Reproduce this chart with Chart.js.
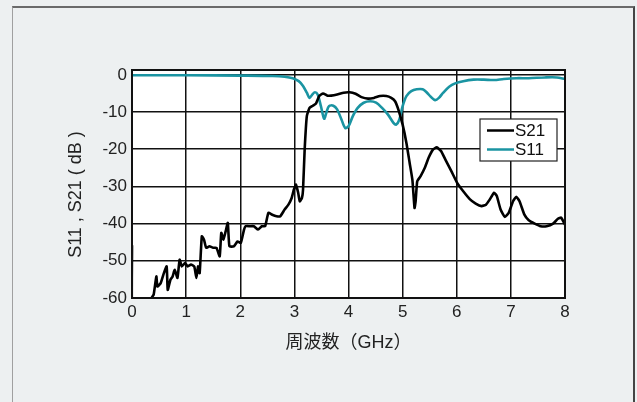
<!DOCTYPE html>
<html>
<head>
<meta charset="utf-8">
<script src="https://cdn.jsdelivr.net/npm/chart.js@4/dist/chart.umd.min.js"></script>
<style>
  html, body { margin: 0; padding: 0; background: #edf0f1; }
  #wrap { position: relative; width: 637px; height: 402px; overflow: hidden; }
  #frame {
    position: absolute; left: 12px; top: 6px; width: 620px; height: 420px;
    border-top: 2px solid #6a6a6a; border-left: 1px solid #a0a0a0; border-right: 2px solid #444;
  }
  canvas { position: absolute; left: 0; top: 0; }
</style>
</head>
<body>
<div id="wrap">
  <div id="frame"></div>
  <canvas id="chart" width="637" height="402"></canvas>
</div>
<script>
// frequency (GHz) / level (dB)
const s21Freq = [0, 0.02, 0.34, 0.36, 0.40, 0.45, 0.47, 0.53, 0.58, 0.64, 0.66, 0.71, 0.75, 0.79, 0.84, 0.88, 0.92, 0.98,
  1.03, 1.09, 1.15, 1.19, 1.22, 1.25, 1.29, 1.33, 1.37, 1.43, 1.50, 1.56, 1.62, 1.65, 1.69, 1.73, 1.77, 1.80, 1.88, 1.95,
  2.01, 2.07, 2.10, 2.18, 2.25, 2.33, 2.40, 2.46, 2.52, 2.59, 2.67, 2.74, 2.82, 2.89, 2.95, 2.99, 3.03, 3.07, 3.10, 3.14,
  3.16, 3.19, 3.23, 3.28, 3.34, 3.40, 3.46, 3.53, 3.61, 3.68, 3.79, 3.91, 4.02, 4.13, 4.24, 4.36, 4.47, 4.58, 4.70, 4.79,
  4.86, 4.92, 5.00, 5.07, 5.13, 5.18, 5.22, 5.24, 5.27, 5.33, 5.41, 5.48, 5.56, 5.63, 5.71, 5.79, 5.90, 6.01, 6.12, 6.24,
  6.35, 6.46, 6.54, 6.61, 6.69, 6.74, 6.81, 6.89, 6.96, 7.04, 7.10, 7.16, 7.25, 7.33, 7.44, 7.55, 7.66, 7.78, 7.87, 7.93, 8.00];
const s21Db = [-45.8, -70, -70, -60, -59.1, -54.2, -56.9, -56, -53.7, -51.5, -57.8, -55.1, -54.2, -52.4, -54.6, -49.7, -51.5, -50.6,
  -51.5, -51, -51.5, -54.6, -51.5, -53.3, -43.4, -44.3, -46.5, -46.1, -46.5, -46.5, -48.8, -42.5, -44.3, -42.1, -39.8, -46.1, -46.1, -44.8,
  -45.2, -41.6, -40.7, -40.7, -40.7, -41.6, -40.7, -40.7, -37.1, -37.6, -38, -38, -36.2, -34.9, -33.1, -30.9, -29.5, -31.7, -34, -33.1,
  -30.9, -20.1, -11.1, -8.9, -8.3, -7.7, -5.7, -5, -5.6, -5.6, -5.3, -4.8, -4.7, -5.1, -6, -6.4, -6.2, -5.7, -5.7, -6.2,
  -7.1, -9.3, -13.4, -18.3, -23.7, -28.2, -35.8, -34, -28.6, -27.3, -25, -22.3, -20.1, -19.5, -20.5, -22.8, -25.9, -29.1, -31.3, -33.4,
  -34.6, -35.3, -34.9, -33.5, -31.7, -32.6, -36.2, -38.2, -37.1, -34, -32.8, -34, -37.6, -39.1, -40, -40.7, -40.7, -40, -38.7, -38.4, -40.3];

const s11Freq = [0, 1.0, 2.0, 2.6, 2.82, 2.97, 3.08, 3.16, 3.23, 3.28, 3.33, 3.38, 3.43, 3.49, 3.55, 3.59, 3.64, 3.72, 3.79, 3.87,
  3.94, 4.00, 4.08, 4.17, 4.28, 4.40, 4.51, 4.62, 4.73, 4.83, 4.88, 4.94, 5.00, 5.07, 5.16, 5.26, 5.37, 5.45, 5.52, 5.60,
  5.67, 5.75, 5.86, 5.97, 6.12, 6.31, 6.50, 6.69, 6.87, 7.10, 7.33, 7.63, 7.85, 8.00];
const s11Db = [-0.1, -0.1, -0.2, -0.3, -0.5, -0.9, -1.7, -3, -4.8, -6.2, -5.3, -4.7, -5.3, -8.4, -11.8, -10.2, -8.4, -8.3, -9.3, -12,
  -14.3, -13.8, -11.1, -8.9, -7.5, -7.1, -7.5, -8.9, -10.7, -12.9, -13.4, -12, -8.4, -5.7, -4.4, -3.9, -3.9, -4.8, -5.9, -6.8,
  -6.2, -4.8, -3.2, -2.3, -1.7, -1.3, -1.3, -1.4, -1.1, -0.9, -0.9, -0.7, -0.7, -1.1];

const xTicks = [0, 1, 2, 3, 4, 5, 6, 7, 8];
const yTicks = [0, -10, -20, -30, -40, -50, -60];
const seriesNames = ['S21', 'S11'];
const seriesColors = ['#000000', '#1a94a2'];

const toPoints = (xs, ys) => xs.map((x, i) => ({ x, y: ys[i] }));

// white plot area + black frame
const plotFrame = {
  id: 'plotFrame',
  beforeDraw(chart) {
    const { ctx, chartArea: a } = chart;
    ctx.save();
    ctx.fillStyle = '#ffffff';
    ctx.fillRect(a.left, a.top, a.right - a.left, a.bottom - a.top);
    ctx.restore();
  },
  afterDraw(chart) {
    const { ctx, chartArea: a } = chart;
    ctx.save();
    ctx.strokeStyle = '#111';
    ctx.lineWidth = 2;
    ctx.strokeRect(a.left, a.top, a.right - a.left, a.bottom - a.top);
    // y title, rotated
    ctx.translate(76, 194.5);
    ctx.rotate(-Math.PI / 2);
    ctx.fillStyle = '#222';
    ctx.font = '18px "Liberation Sans", Arial, sans-serif';
    ctx.textAlign = 'center';
    ctx.textBaseline = 'middle';
    ctx.fillText('S11 , S21 ( dB )', 0, 0);
    ctx.restore();
  }
};

// boxed legend inside the plot
const boxLegend = {
  id: 'boxLegend',
  afterDraw(chart) {
    const { ctx } = chart;
    const x0 = 480, y0 = 119, w = 77, h = 42;
    ctx.save();
    ctx.fillStyle = '#fff';
    ctx.fillRect(x0, y0, w, h);
    ctx.strokeStyle = '#222';
    ctx.lineWidth = 1.2;
    ctx.strokeRect(x0, y0, w, h);
    ctx.font = '17px "Liberation Sans", Arial, sans-serif';
    ctx.textBaseline = 'middle';
    chart.data.datasets.forEach((ds, i) => {
      const y = y0 + 11.5 + i * 19;
      ctx.strokeStyle = ds.borderColor;
      ctx.lineWidth = 2.5;
      ctx.beginPath();
      ctx.moveTo(x0 + 7, y);
      ctx.lineTo(x0 + 34, y);
      ctx.stroke();
      ctx.fillStyle = '#111';
      ctx.fillText(ds.label, x0 + 35, y + 1);
    });
    ctx.restore();
  }
};

new Chart(document.getElementById('chart'), {
  type: 'line',
  data: {
    datasets: [
      { label: seriesNames[0], data: toPoints(s21Freq, s21Db), borderColor: seriesColors[0], borderWidth: 2.6, pointRadius: 0, tension: 0.15 },
      { label: seriesNames[1], data: toPoints(s11Freq, s11Db), borderColor: seriesColors[1], borderWidth: 2.6, pointRadius: 0, tension: 0.3 },
    ],
  },
  options: {
    responsive: false,
    animation: false,
    layout: { padding: { left: 0, top: 70, right: 72, bottom: 0 } },
    plugins: { legend: { display: false }, tooltip: { enabled: false } },
    scales: {
      x: {
        type: 'linear', min: 0, max: 8,
        afterBuildTicks: s => { s.ticks = xTicks.map(v => ({ value: v })); },
        afterFit: s => { s.height = 104; },
        ticks: { color: '#222', font: { size: 17, family: '"Liberation Sans", Arial, sans-serif' }, padding: 4 },
        grid: { color: '#111', lineWidth: 1.5, drawTicks: false },
        border: { display: false },
        title: {
          display: true, text: '周波数（GHz）', color: '#222',
          font: { size: 18, family: '"Liberation Sans", "Noto Sans CJK JP", sans-serif' },
          padding: { top: 0, bottom: 48 },
        },
      },
      y: {
        min: -60, max: 1.3,
        afterBuildTicks: s => { s.ticks = yTicks.map(v => ({ value: v })); },
        afterFit: s => { s.width = 132; },
        ticks: { color: '#222', font: { size: 17, family: '"Liberation Sans", Arial, sans-serif' }, padding: 5 },
        grid: { color: '#111', lineWidth: 1.5, drawTicks: false },
        border: { display: false },
      },
    },
  },
  plugins: [plotFrame, boxLegend],
});
</script>
</body>
</html>
